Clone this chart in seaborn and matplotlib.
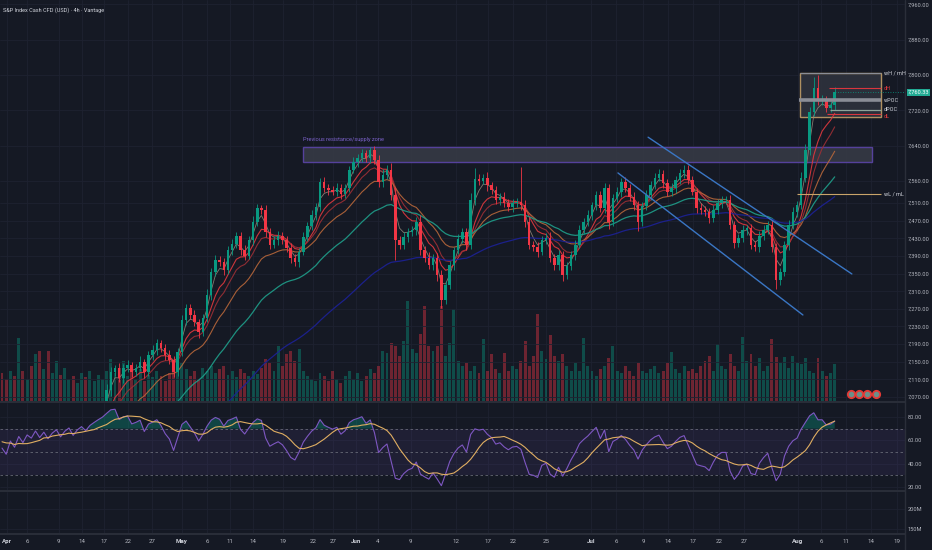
import numpy as np
import pandas as pd
import matplotlib
matplotlib.use("Agg")
import matplotlib.pyplot as plt
from matplotlib.patches import Rectangle
from matplotlib.lines import Line2D
import matplotlib.transforms as mtransforms
import seaborn as sns

# ---- data (12h-ish bars, Apr -> Aug) ----
warmup_close = [6640, 6660, 6650, 6680, 6670, 6700, 6690, 6720, 6700, 6730,
                6710, 6740, 6720, 6700, 6730, 6750, 6720, 6740, 6760, 6730,
                6750, 6770, 6740, 6760, 6780, 6750, 6770, 6790, 6760, 6780]

close = [
    6760, 6740, 6790, 6770, 6820, 6800, 6840, 6830, 6870, 6850, 6880, 6860, 6890, 6910, 6890, 6920, 6940, 6920, 6950, 6970, 6960, 6990, 7010, 7030, 7050,
    7085, 7127, 7135, 7113, 7136, 7143, 7127, 7136, 7149, 7127, 7165, 7177, 7192, 7181, 7165, 7154, 7127, 7172, 7245, 7272, 7256, 7240, 7217, 7249, 7301,
    7353, 7381, 7376, 7358, 7403, 7417, 7435, 7403, 7390, 7426, 7467, 7498, 7494, 7444, 7415, 7426, 7435, 7426, 7408, 7385, 7376, 7399, 7433, 7458, 7483,
    7501, 7558, 7544, 7539, 7535, 7544, 7530, 7544, 7585, 7603, 7612, 7623, 7612, 7630, 7607, 7557, 7573, 7585, 7528, 7426, 7415, 7433, 7444, 7449, 7467,
    7403, 7385, 7369, 7385, 7347, 7290, 7324, 7369, 7403, 7429, 7444, 7415, 7517, 7565, 7560, 7567, 7550, 7539, 7517, 7523, 7510, 7501, 7510, 7512, 7505,
    7467, 7415, 7410, 7399, 7426, 7431, 7385, 7369, 7392, 7347, 7367, 7392, 7415, 7449, 7467, 7483, 7505, 7528, 7499, 7544, 7467, 7521, 7535, 7558, 7544,
    7523, 7505, 7467, 7503, 7528, 7551, 7567, 7576, 7555, 7535, 7544, 7562, 7578, 7585, 7562, 7535, 7499, 7494, 7490, 7476, 7494, 7510, 7517, 7517, 7460,
    7419, 7430, 7449, 7453, 7415, 7410, 7435, 7449, 7460, 7410, 7335, 7353, 7415, 7460, 7490, 7505, 7567, 7630, 7716, 7770, 7743, 7743, 7725, 7732, 7760.33,
]

wick_hi = [
    12, 9, 15, 8, 20, 11, 7, 14, 10, 13, 9, 16, 8, 12, 10, 7, 11, 9, 13, 8, 10, 12, 7, 9, 11,
    14, 10, 8, 12, 9, 11, 7, 10, 13, 8, 9, 12, 10, 7, 9, 11, 8, 10, 12, 9, 8, 11, 7, 10, 14,
    9, 12, 8, 10, 9, 11, 10, 8, 12, 9, 13, 10, 8, 11, 9, 10, 12, 8, 9, 11, 10, 9, 12, 8, 10,
    9, 8, 11, 10, 9, 12, 8, 10, 9, 11, 8, 10, 7, 6, 9, 12, 14, 10, 15, 18, 9, 11, 10, 8, 12,
    15, 10, 13, 9, 11, 12, 10, 9, 8, 11, 10, 9, 16, 25, 10, 9, 12, 8, 10, 9, 11, 8, 10, 9, 80,
    12, 10, 9, 11, 8, 10, 12, 9, 11, 10, 9, 8, 11, 10, 9, 12, 8, 10, 9, 11, 10, 9, 12, 8, 10,
    9, 11, 10, 8, 12, 9, 10, 11, 8, 9, 12, 10, 9, 11, 10, 9, 8, 11, 10, 9, 12, 10, 9, 8, 11,
    10, 9, 12, 8, 10, 9, 11, 10, 9, 12, 10, 9, 8, 11, 10, 9, 12, 14, 12, 25, 30, 12, 10, 9, 12,
]

wick_lo = [
    10, 14, 9, 12, 8, 15, 11, 9, 13, 10, 8, 12, 9, 11, 10, 13, 9, 8, 12, 10, 9, 11, 13, 8, 10,
    9, 12, 10, 8, 11, 9, 12, 10, 8, 13, 9, 10, 12, 8, 11, 9, 12, 10, 9, 11, 8, 10, 13, 9, 10,
    11, 9, 10, 12, 8, 10, 9, 11, 10, 8, 12, 9, 10, 11, 9, 8, 12, 10, 9, 11, 10, 12, 8, 9, 10,
    11, 10, 9, 12, 8, 10, 11, 9, 10, 8, 12, 9, 10, 11, 9, 12, 10, 8, 11, 45, 10, 9, 12, 10, 11,
    12, 10, 9, 11, 13, 18, 10, 9, 11, 8, 10, 12, 9, 11, 10, 8, 12, 9, 10, 11, 9, 10, 12, 9, 10,
    11, 9, 10, 12, 8, 10, 9, 11, 10, 15, 9, 10, 11, 8, 10, 9, 12, 10, 9, 11, 15, 10, 9, 11, 10,
    9, 11, 20, 10, 9, 12, 10, 8, 11, 9, 10, 12, 9, 11, 10, 8, 12, 10, 9, 11, 10, 9, 12, 10, 9,
    11, 10, 9, 12, 10, 8, 11, 9, 10, 12, 20, 10, 9, 11, 10, 12, 9, 10, 11, 9, 10, 12, 9, 10, 11,
]

volume = [
    28, 22, 30, 25, 63, 30, 22, 35, 47, 50, 32, 50, 28, 40, 26, 33, 22, 25, 18, 28, 24, 30, 20, 26, 22,
    30, 42, 28, 33, 40, 25, 30, 22, 32, 20, 26, 24, 30, 25, 20, 28, 35, 30, 38, 32, 25, 30, 22, 33, 30,
    35, 28, 32, 35, 26, 30, 24, 32, 28, 25, 30, 27, 33, 42, 38, 30, 55, 35, 47, 50, 40, 52, 30, 25, 22,
    20, 28, 25, 20, 30, 22, 18, 25, 30, 22, 28, 20, 25, 32, 28, 35, 50, 48, 58, 55, 45, 60, 100, 52, 48,
    67, 95, 55, 50, 55, 95, 45, 58, 92, 40, 35, 38, 30, 35, 28, 62, 30, 47, 32, 28, 48, 30, 35, 32, 40,
    60, 35, 45, 87, 50, 42, 66, 45, 40, 47, 35, 30, 38, 30, 63, 35, 30, 25, 32, 35, 43, 55, 30, 28, 35,
    30, 25, 38, 30, 28, 32, 35, 28, 30, 38, 49, 32, 28, 35, 30, 32, 28, 35, 40, 45, 30, 57, 35, 32, 47,
    35, 30, 64, 40, 47, 35, 43, 30, 35, 62, 44, 38, 44, 33, 45, 38, 37, 43, 30, 28, 43, 30, 25, 28, 37,
]

tick_bars = [1.2, 6.0, 13.6, 19.1, 24.4, 30.1, 35.8, 43.0, 49.0, 54.5, 60.0, 67.1, 74.3, 79.1,
             84.6, 89.8, 97.7, 108.5, 116.1, 122.1, 130.0, 140.7, 146.7, 153.2, 159.1, 165.1,
             171.3, 177.3, 190.2, 195.7, 201.7, 207.6, 213.9]
tick_labels = ["Apr", "6", "9", "14", "17", "22", "27", "May", "6", "11", "14", "19", "22", "27",
               "Jun", "4", "9", "12", "17", "22", "25", "Jul", "6", "9", "14", "17", "22", "27",
               "Aug", "6", "11", "14", "19"]
months = ["Apr", "May", "Jun", "Jul", "Aug"]

price_ticks = [7960, 7880, 7800, 7720, 7640, 7560, 7510, 7470, 7430, 7390, 7350,
               7310, 7270, 7230, 7190, 7150, 7110, 7070]
rsi_ticks = [20, 40, 60, 80]

# drawings
zone_bars = [71.9, 207.9]
zone_prices = [7603, 7637]
range_bars = [190.7, 210.0]
range_prices = [7705, 7804]
level_names = ["dH", "wPOC", "dPOC", "dL", "wL / mL"]
level_prices = [7770, 7743, 7721, 7712, 7530]
level_start = [197.6, 190.5, 197.8, 197.2, 190.0]
channel_up_bars = [154.4, 203.1]
channel_up_prices = [7659, 7349]
channel_dn_bars = [147.2, 191.4]
channel_dn_prices = [7578, 7256]
event_bars = [202.9, 204.8, 206.7, 208.8]

BG = "#151924"
GRID = "#1e2230"
TXT = "#b2b5be"
UP = "#089981"
DN = "#f23645"
FS = 4.1

sns.set_theme(style="dark", rc={"axes.facecolor": BG, "figure.facecolor": BG})
plt.rcParams["font.family"] = ["Roboto", "DejaVu Sans"]

# ---- derived series ----
c_all = pd.Series(warmup_close + close, dtype=float)
nw = len(warmup_close)
c = np.array(close, dtype=float)
o = np.r_[warmup_close[-1], c[:-1]]
hi = np.maximum(o, c) + np.array(wick_hi)
lo = np.minimum(o, c) - np.array(wick_lo)
up = c >= o
idx = np.arange(len(c))

ma_spans = [3, 7, 10, 17, 33, 67]
ma_colors = ["#8f8679", "#e0393e", "#9c2f35", "#b8673a", "#1f9e8a", "#1c2196"]
ma_widths = [0.6, 0.8, 0.8, 0.8, 0.9, 0.9]
mas = pd.DataFrame({"bar": idx})
for s in ma_spans:
    mas[f"ema{s}"] = c_all.ewm(span=s, adjust=False).mean().iloc[nw:].to_numpy()

p = 9
delta = c_all.diff()
gain = delta.clip(lower=0).ewm(alpha=1 / p, adjust=False).mean()
loss = (-delta.clip(upper=0)).ewm(alpha=1 / p, adjust=False).mean()
rsi_all = 100 - 100 / (1 + gain / loss)
rsi_df = pd.DataFrame({"bar": idx,
                       "rsi": rsi_all.iloc[nw:].to_numpy(),
                       "rsi_ma": rsi_all.rolling(9).mean().iloc[nw:].to_numpy()})

# ---- figure layout ----
W, H = 932, 550
fig = plt.figure(figsize=(W / 100, H / 100), dpi=100)
pw = 905 / W
ax_vol = fig.add_axes([0, 1 - 401 / H, pw, 401 / H])
ax = fig.add_axes([0, 1 - 401 / H, pw, 401 / H])
ax_rsi = fig.add_axes([0, 1 - 490 / H, pw, 87 / H])
ax_low = fig.add_axes([0, 1 - 533 / H, pw, 41 / H])
ax.set_zorder(3)
ax.patch.set_visible(False)

xlim = (-0.48, 215.8)
for a in (ax_vol, ax, ax_rsi, ax_low):
    a.set_xlim(*xlim)
    for sp in a.spines.values():
        sp.set_visible(False)
    a.set_xticks(tick_bars)
    a.tick_params(length=0, labelsize=FS, colors=TXT)
for a in (ax_vol, ax, ax_rsi):
    a.set_xticklabels([])

# grid
for a in (ax_vol, ax_rsi, ax_low):
    for xb in tick_bars:
        a.axvline(xb, color=GRID, lw=0.6, zorder=0)

# volume
ax_vol.set_ylim(0, 400)
ax_vol.set_yticks([])
ax_vol.bar(idx, volume, width=0.7, color=np.where(up, UP, DN), alpha=0.4, linewidth=0, zorder=1)

# price
ax.set_ylim(7061, 7970)
ax.yaxis.tick_right()
ax.set_yticks(price_ticks)
ax.set_yticklabels([f"{v:,.2f}" for v in price_ticks])
ax.tick_params(axis="y", pad=2)
for yv in price_ticks:
    ax.axhline(yv, color=GRID, lw=0.6, zorder=0)

# resistance zone
ax.add_patch(Rectangle((zone_bars[0], zone_prices[0]), zone_bars[1] - zone_bars[0],
                       zone_prices[1] - zone_prices[0], facecolor="#363a45", alpha=0.9,
                       edgecolor="#5b45a8", lw=1.0, zorder=1))
ax.text(zone_bars[0], zone_prices[1] + 10, "Previous resistance/supply zone", color="#7b61c9",
        fontsize=4.1, va="bottom", ha="left", zorder=6)

# range box
ax.add_patch(Rectangle((range_bars[0], range_prices[0]), range_bars[1] - range_bars[0],
                       range_prices[1] - range_prices[0], facecolor="#2f333e", alpha=0.85,
                       edgecolor="#c9a46a", lw=1.0, zorder=1))

# candles
body_lo = np.minimum(o, c)
body_h = np.maximum(np.abs(c - o), 1.5)
cols = np.where(up, UP, DN)
ax.vlines(idx, lo, hi, colors=cols, lw=0.6, zorder=3)
ax.bar(idx, body_h, bottom=body_lo, width=0.6, color=cols, linewidth=0, zorder=4)

# moving averages
for s, col, lw in zip(ma_spans, ma_colors, ma_widths):
    sns.lineplot(data=mas, x="bar", y=f"ema{s}", ax=ax, color=col, lw=lw, alpha=0.9,
                 estimator=None, zorder=2)

# channel
ax.plot(channel_up_bars, channel_up_prices, color="#3a76c4", lw=1.0, zorder=5)
ax.plot(channel_dn_bars, channel_dn_prices, color="#3a76c4", lw=1.0, zorder=5)

# levels
level_colors = ["#d9363e", "#8a8d96", "#8fa39a", "#d9363e", "#c9a46a"]
level_lw = [0.8, 2.6, 0.9, 0.8, 0.8]
for name, yv, x0, col, lw in zip(level_names, level_prices, level_start, level_colors, level_lw):
    ax.hlines(yv, x0, range_bars[1], colors=col, lw=lw, zorder=5)
ax.hlines(range_prices[1], range_bars[0], range_bars[1], colors="#8a8d96", lw=0.8, zorder=5)

lab_x = 210.8
label_specs = [("wH / mH", range_prices[1], "#d1d4dc"), ("dH", level_prices[0], "#e0393e"),
               ("wPOC", level_prices[1], "#d1d4dc"), ("dPOC", level_prices[2], "#d1d4dc"),
               ("dL", level_prices[3] - 5, "#e0393e"), ("wL / mL", level_prices[4], "#d1d4dc")]
for t, yv, col in label_specs:
    ax.text(lab_x, yv, t, color=col, fontsize=4.0, va="center", ha="left", zorder=6)

# current price
last = close[-1]
ax.hlines(last, idx[-1], xlim[1], colors=UP, lw=0.6, linestyles=(0, (1, 2)), zorder=5)
tr = mtransforms.blended_transform_factory(ax.transAxes, ax.transData)
ax.text(1.003, last, f"{last:,.2f}", transform=tr, fontsize=FS, color="#ffffff",
        va="center", ha="left", clip_on=False, zorder=7,
        bbox=dict(boxstyle="square,pad=0.2", facecolor="#22ab94", edgecolor="none"))

# event markers
ax.scatter(event_bars, [7077] * len(event_bars), s=28, facecolor="#6b8f8a",
           edgecolor="#e53935", linewidth=1.3, zorder=7)

# RSI pane
ax_rsi.set_ylim(17.4, 92)
ax_rsi.yaxis.tick_right()
ax_rsi.set_yticks(rsi_ticks)
ax_rsi.set_yticklabels([f"{v:.2f}" for v in rsi_ticks])
ax_rsi.tick_params(axis="y", pad=2)
for yv in rsi_ticks:
    ax_rsi.axhline(yv, color=GRID, lw=0.6, zorder=0)
ax_rsi.axhspan(30, 70, color="#7e57c2", alpha=0.1, lw=0)
for yv in (70, 50, 30):
    ax_rsi.axhline(yv, color="#787b86", lw=0.6, ls=(0, (3, 3)), alpha=0.8)
ax_rsi.fill_between(idx, 70, rsi_df["rsi"], where=rsi_df["rsi"] > 70, color=UP,
                    alpha=0.35, lw=0, interpolate=True)
sns.lineplot(data=rsi_df, x="bar", y="rsi", ax=ax_rsi, color="#7e57c2", lw=0.8, estimator=None)
sns.lineplot(data=rsi_df, x="bar", y="rsi_ma", ax=ax_rsi, color="#e0ae62", lw=0.8, estimator=None)

# lower pane
ax_low.set_ylim(140.5, 240.5)
ax_low.yaxis.tick_right()
ax_low.set_yticks([150, 200])
ax_low.set_yticklabels(["150M", "200M"])
ax_low.tick_params(axis="y", pad=2)
ax_low.set_xticklabels(tick_labels)
ax_low.tick_params(axis="x", pad=4, labelsize=4.4)
for yv in (150, 200):
    ax_low.axhline(yv, color=GRID, lw=0.6, zorder=0)
for lab in ax_low.get_xticklabels():
    if lab.get_text() in months:
        lab.set_color("#d1d4dc")
        lab.set_fontweight("bold")

for a in (ax_vol, ax, ax_rsi, ax_low):
    a.set_xlabel("")
    a.set_ylabel("")

# pane separators
for yp in (401.5, 490.5, 533.5):
    fig.add_artist(Line2D([0, pw], [1 - yp / H, 1 - yp / H], color="#2a2e39", lw=1.4))
fig.add_artist(Line2D([pw, pw], [0, 1], color="#2a2e39", lw=1.0))

fig.text(3 / W, 1 - 10 / H, "S&P Index Cash CFD (USD) \u00b7 4h \u00b7 Vantage", color="#d1d4dc",
         fontsize=4.0, va="center", ha="left")

fig.savefig("out.png", dpi=100, facecolor=BG)
